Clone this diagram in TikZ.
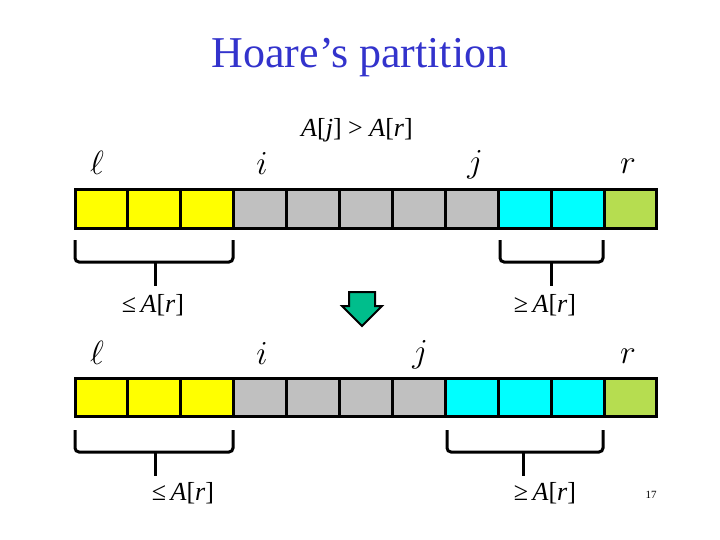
\documentclass[tikz,border=0pt]{standalone}
\usepackage{fontspec}
\setmainfont{Liberation Serif}
\begin{document}
\begin{tikzpicture}[x=1pt,y=-1pt,
 cell/.style={draw=black,line width=3pt},
 brk/.style={draw=black,line width=3pt,rounded corners=4pt},
 lbl/.style={font=\fontsize{24.88}{28}\selectfont,scale=1.35},
 cond/.style={font=\fontsize{26}{28}\selectfont}]
\useasboundingbox (0,0) rectangle (720,540);
\definecolor{yel}{RGB}{255,255,0}\definecolor{gr}{RGB}{192,192,192}
\definecolor{cy}{RGB}{0,255,255}\definecolor{lg}{RGB}{182,221,80}
\definecolor{tb}{RGB}{51,51,204}\definecolor{ar}{RGB}{0,190,140}
\node[text=tb,font=\fontsize{44}{48}\selectfont] (title) at (360,58) {Hoare’s partition};
\foreach \c [count=\k from 0] in {yel,yel,yel,gr,gr,gr,gr,gr,cy,cy,lg}
 \filldraw[cell,fill=\c] ({75+\k*52.9},190) rectangle ({75+(\k+1)*52.9},229);
\foreach \c [count=\k from 0] in {yel,yel,yel,gr,gr,gr,gr,cy,cy,cy,lg}
 \filldraw[cell,fill=\c] ({75+\k*52.9},378) rectangle ({75+(\k+1)*52.9},416);
\node[lbl] (l1) at (97,163) {$\ell$};
\node[lbl] (i1) at (262,163) {$i$};
\node[lbl] (j1) at (475,165) {$j$};
\node[lbl] (r1) at (628,166) {$r$};
\node[cond] (c1) at (357,130) {\textit{A}[\textit{j}] > \textit{A}[\textit{r}]};
\node[lbl] (l2) at (97,353) {$\ell$};
\node[lbl] (i2) at (262,353) {$i$};
\node[lbl] (j2) at (420,355) {$j$};
\node[lbl] (r2) at (628,356) {$r$};
\node[cond] (q1) at (153,305) {≤\,\textit{A}[\textit{r}]};
\node[cond] (q2) at (545,305) {≥\,\textit{A}[\textit{r}]};
\node[cond] (q3) at (183,493) {≤\,\textit{A}[\textit{r}]};
\node[cond] (q4) at (545,493) {≥\,\textit{A}[\textit{r}]};
\node[font=\fontsize{11}{12}\selectfont] (pg) at (651,495) {17};
\draw[brk] (75,240) -- (75,262) -- (233,262) -- (233,240);
\draw[brk] (155,262) -- (155,286);
\draw[brk] (500,240) -- (500,262) -- (603,262) -- (603,240);
\draw[brk] (551,262) -- (551,286);
\draw[brk] (75,430) -- (75,452) -- (233,452) -- (233,430);
\draw[brk] (155,452) -- (155,476);
\draw[brk] (447,430) -- (447,452) -- (603,452) -- (603,430);
\draw[brk] (523,452) -- (523,476);
\filldraw[draw=black,line width=2pt,fill=ar] (349,292) -- (375,292) -- (375,306) -- (382,306) -- (362,326) -- (342,306) -- (349,306) -- cycle;
\end{tikzpicture}
\end{document}
